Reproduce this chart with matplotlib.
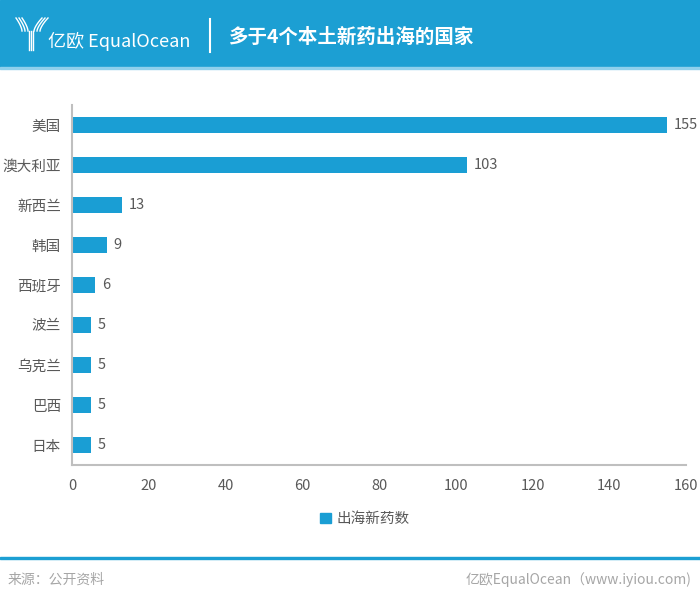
import matplotlib
matplotlib.use("Agg")
import matplotlib.pyplot as plt
from matplotlib.patches import Rectangle
from matplotlib.lines import Line2D
import numpy as np

plt.rcParams['font.family'] = ['Noto Sans CJK SC', 'DejaVu Sans']

categories = ["美国", "澳大利亚", "新西兰", "韩国", "西班牙", "波兰", "乌克兰", "巴西", "日本"]
values = [155, 103, 13, 9, 6, 5, 5, 5, 5]
series_name = "出海新药数"
xticks = [0, 20, 40, 60, 80, 100, 120, 140, 160]
title = "多于4个本土新药出海的国家"

W, H = 700, 606
fig = plt.figure(figsize=(W/100, H/100), dpi=100)
fig.patch.set_facecolor("white")

def fy(py):
    return 1 - np.asarray(py) / H

def fx(px):
    return np.asarray(px) / W

blue = "#1c9fd3"
bar_color = "#1a9ed4"
text_gray = "#595959"

# header
fig.patches.append(Rectangle((0, fy(67)), 1, 67/H, transform=fig.transFigure, color=blue, zorder=0))
fig.patches.append(Rectangle((0, fy(69)), 1, 2/H, transform=fig.transFigure, color="#8fd0ec", zorder=0))
# logo icon
for off in [-4, 0, 4]:
    fig.add_artist(Line2D([fx(31+off*0.5)]*2, [fy(50), fy(31)], transform=fig.transFigure, color="white", lw=1.0))
for k, off in enumerate([0, 3, 6]):
    t = np.linspace(0, 1, 20)
    xl = 31 - 3 - off - 6*t**1.5
    yl = 31 - 13*t
    fig.add_artist(Line2D(fx(xl), fy(yl), transform=fig.transFigure, color="white", lw=1.0))
    xr = 31 + 3 + off + 8*t**1.5
    fig.add_artist(Line2D(fx(xr), fy(yl), transform=fig.transFigure, color="white", lw=1.0))
fig.text(fx(48), fy(41), "亿欧 EqualOcean", color="white", fontsize=13, va="center", ha="left",
         fontweight="light")
fig.add_artist(Line2D([fx(210)]*2, [fy(19), fy(52)], transform=fig.transFigure, color="white", lw=1.5))
fig.text(fx(229), fy(37), title, color="white", fontsize=14, fontweight="bold", va="center", ha="left")

# axes
ax = fig.add_axes([fx(72), fy(465), fx(686) - fx(72), (465-105)/H])
y = np.arange(len(categories))
ax.barh(y, values, height=0.4, color=bar_color, label=series_name)
ax.set_ylim(len(categories) - 0.5, -0.5)
ax.set_xlim(0, 160)
ax.set_xticks(xticks)
ax.set_xticklabels([str(v) for v in xticks])
ax.set_yticks(y)
ax.set_yticklabels(categories)
ax.tick_params(axis="both", length=0, colors=text_gray, labelsize=10.5)
ax.tick_params(axis="x", pad=10)
ax.tick_params(axis="y", pad=8)
for s in ["top", "right"]:
    ax.spines[s].set_visible(False)
for s in ["left", "bottom"]:
    ax.spines[s].set_color("#bfbfbf")
    ax.spines[s].set_linewidth(1.5)
for yi, v in zip(y, values):
    ax.annotate(str(v), (v, yi), xytext=(5, 0), textcoords="offset points",
                va="center", ha="left", color=text_gray, fontsize=10.5, annotation_clip=False)

leg = fig.legend(handles=[Rectangle((0, 0), 1, 1, color=bar_color)], labels=[series_name],
                 loc="center", bbox_to_anchor=(fx(365), fy(519)), frameon=False,
                 fontsize=10.5, handlelength=0.7, handleheight=0.7, handletextpad=0.4)
for t in leg.get_texts():
    t.set_color(text_gray)

# footer
fig.patches.append(Rectangle((0, fy(559)), 1, 2/H, transform=fig.transFigure, color=blue, zorder=0))
fig.text(fx(8), fy(580), "来源：公开资料", color="#a6a6a6", fontsize=10, va="center", ha="left")
fig.text(fx(691), fy(580), "亿欧EqualOcean（www.iyiou.com)", color="#a6a6a6", fontsize=10, va="center", ha="right")

fig.savefig("out.png", dpi=100)
